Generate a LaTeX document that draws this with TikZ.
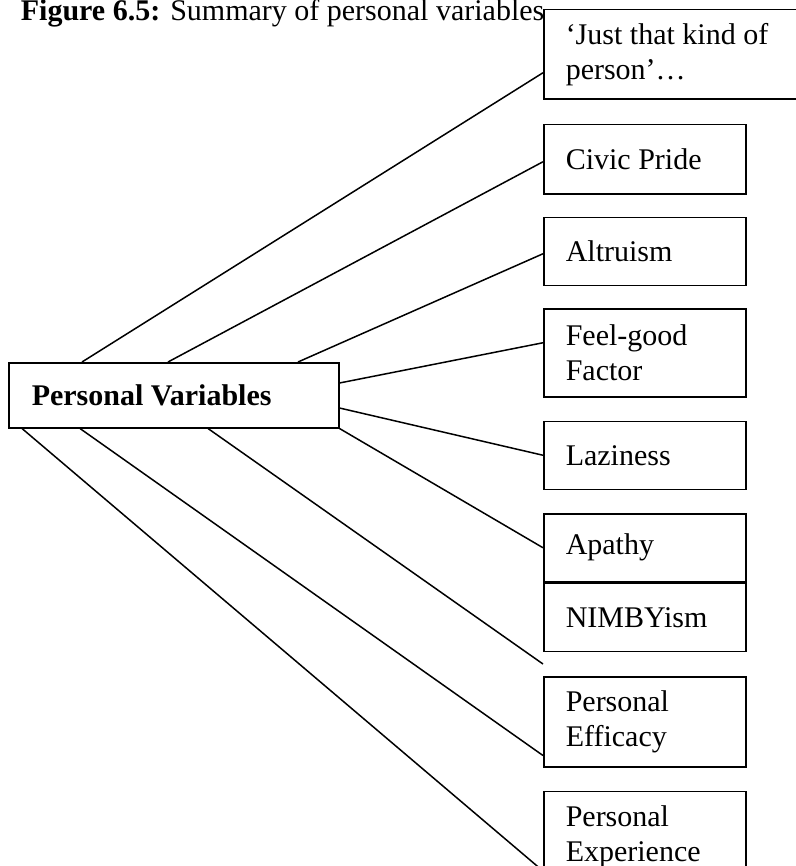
\documentclass[tikz,border=0pt]{standalone}
\usepackage{fontspec}
\setmainfont{Liberation Serif}
\usetikzlibrary{positioning}
\tikzstyle{varbox} = [rectangle, draw, line width=0.6pt, anchor=north west,
    font=\fontsize{12}{14}\selectfont, align=flush left, text width=63.2pt,
    inner xsep=8.8pt, inner ysep=2pt, minimum height=27.2pt]
\tikzstyle{pvbox} = [rectangle, draw, line width=0.6pt, anchor=north west,
    font=\fontsize{12}{14}\selectfont\bfseries, align=flush left, text width=113.6pt,
    inner xsep=9.2pt, minimum height=26pt]
\tikzstyle{line} = [draw, line width=0.6pt]

\begin{document}
\begin{tikzpicture}[x=0.4pt, y=-0.4pt]
  \useasboundingbox (0,0) rectangle (795,866);
   % Place nodes
    \node [anchor=base west, font=\fontsize{12}{14}\selectfont] (title) at (12,21) {\textbf{Figure 6.5:} Summary of personal variables};
    \node [pvbox] (pv) at (8,362) {Personal Variables};
    \node [varbox, text width=97.2pt, minimum height=35.6pt] (just) at (543,9) {`Just that kind of\\ person'\dots};
    \node [varbox, minimum height=27.6pt] (civic) at (543,124) {Civic Pride};
    \node [varbox, below=8.8pt of civic.south west, anchor=north west] (altru) {Altruism};
    \node [varbox, below=8.8pt of altru.south west, anchor=north west, minimum height=35.2pt] (feel) {Feel-good\\ Factor};
    \node [varbox, below=9.2pt of feel.south west, anchor=north west] (lazy) {Laziness};
    \node [varbox, below=9.2pt of lazy.south west, anchor=north west] (apathy) {Apathy};
    \node [varbox, below=0pt of apathy.south west, anchor=north west] (nimby) {NIMBYism};
    \node [varbox, below=9.6pt of nimby.south west, anchor=north west, minimum height=36pt] (effic) {Personal\\ Efficacy};
    \node [varbox, below=9.2pt of effic.south west, anchor=north west, minimum height=36.4pt] (exper) {Personal\\ Experience};
    \coordinate (gap) at ([yshift=-4.8pt]nimby.south west);
   % Draw edges
    \path [line] ([xshift=29.6pt]pv.north west) -- ([yshift=-7.4pt]just.west);
    \path [line] ([xshift=64pt]pv.north west) -- ([yshift=-1pt]civic.west);
    \path [line] ([xshift=116pt]pv.north west) -- ([yshift=-1pt]altru.west);
    \path [line] ([yshift=-8.4pt]pv.north east) -- ([yshift=4pt]feel.west);
    \path [line] ([yshift=-18.4pt]pv.north east) -- (lazy.west);
    \path [line] (pv.south east) -- (apathy.west);
    \path [line] ([xshift=80pt]pv.south west) -- (gap);
    \path [line] ([xshift=28.8pt]pv.south west) -- ([yshift=4.8pt]effic.south west);
    \path [line] ([xshift=5.6pt]pv.south west) -- ([yshift=4.8pt]exper.south west);
\end{tikzpicture}
\end{document}
